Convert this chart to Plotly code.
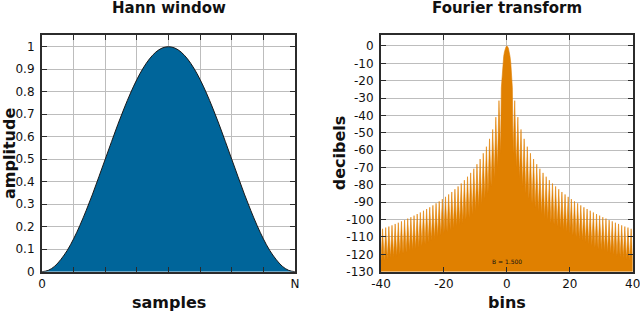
import plotly.graph_objects as go

# ---------------- data ----------------
# Hann window, samples 0..N (N = 40), amplitude
sample_idx = list(range(41))
hann_amp = [0.000, 0.006, 0.024, 0.055, 0.095, 0.146, 0.206, 0.273, 0.345, 0.422,
            0.500, 0.578, 0.655, 0.727, 0.794, 0.854, 0.905, 0.946, 0.976, 0.994,
            1.000,
            0.994, 0.976, 0.946, 0.905, 0.854, 0.794, 0.727, 0.655, 0.578, 0.500,
            0.422, 0.345, 0.273, 0.206, 0.146, 0.095, 0.055, 0.024, 0.006, 0.000]

# Fourier transform (dB), positive-frequency half; spectrum is symmetric
main_lobe_bins = [0.0, 0.25, 0.5, 0.75, 1.0, 1.25, 1.5, 1.75]
main_lobe_db = [0.0, -0.4, -1.4, -3.3, -6.0, -9.9, -15.4, -24.1]

null_bins = [2, 3, 4, 5, 6, 7, 8, 9, 10, 11, 12, 13, 14, 15, 16, 17, 18, 19, 20,
             21, 22, 23, 24, 25, 26, 27, 28, 29, 30, 31, 32, 33, 34, 35, 36, 37, 38, 39, 40]
null_db = [-62, -70, -76, -81, -85, -88, -91, -93, -95, -97, -99, -100, -102, -103, -104,
           -105, -106, -107, -108, -109, -110, -111, -112, -113, -114, -115, -116, -117,
           -117.5, -118, -119, -119.5, -120, -121, -121.5, -122, -123, -123.5, -124]

peak_bins = [2.5, 3.5, 4.5, 5.5, 6.5, 7.5, 8.5, 9.5, 10.5, 11.5, 12.5, 13.5, 14.5, 15.5,
             16.5, 17.5, 18.5, 19.5, 20.5, 21.5, 22.5, 23.5, 24.5, 25.5, 26.5, 27.5, 28.5,
             29.5, 30.5, 31.5, 32.5, 33.5, 34.5, 35.5, 36.5, 37.5, 38.5, 39.5]
peak_db = [-31.5, -41.0, -48.1, -53.5, -58.0, -61.8, -65.1, -68.1, -70.7, -73.1, -75.3,
           -77.3, -79.2, -80.9, -82.5, -84.1, -85.5, -86.9, -88.2, -89.5, -90.6, -91.8,
           -92.9, -93.9, -94.9, -95.9, -96.8, -97.7, -98.6, -99.4, -100.3, -101.0, -101.8,
           -102.5, -103.3, -104.0, -104.6, -105.3]

db_ticks = [0, -10, -20, -30, -40, -50, -60, -70, -80, -90, -100, -110, -120, -130]
db_labels = ["0", "-10", "-20", "-30", "-40", "-50", "-60", "-70", "-80", "-90",
             "-100", "-110", "-120", "-130"]
amp_ticks = [0, 0.1, 0.2, 0.3, 0.4, 0.5, 0.6, 0.7, 0.8, 0.9, 1]
bin_ticks = [-40, -20, 0, 20, 40]
bin_labels = ["-40", "-20", "0", "20", "40"]

# ---------------- build spectrum polyline ----------------
half_x = list(main_lobe_bins)
half_y = list(main_lobe_db)
for i in range(len(null_bins)):
    half_x.append(null_bins[i]); half_y.append(null_db[i])
    if i < len(peak_bins):
        half_x.append(peak_bins[i]); half_y.append(peak_db[i])

spec_x = [-v for v in half_x[::-1]] + half_x[1:]
spec_y = half_y[::-1] + half_y[1:]
floor = db_ticks[-1]
poly_x = [spec_x[0]] + spec_x + [spec_x[-1]]
poly_y = [floor] + spec_y + [floor]

BLUE = "#00659a"
ORANGE = "#e08000"
GRID = "#bdbdbd"
FRAME = "#2b2b2b"
FONT = "DejaVu Sans"

fig = go.Figure()
fig.add_trace(go.Scatter(x=sample_idx, y=hann_amp, mode="lines", fill="tozeroy",
                         fillcolor=BLUE, line=dict(color="#1a1a1a", width=1, shape="spline"),
                         xaxis="x", yaxis="y", hoverinfo="skip"))
fig.add_trace(go.Scatter(x=poly_x, y=poly_y, mode="lines", fill="toself",
                         fillcolor=ORANGE, line=dict(color=ORANGE, width=0.6),
                         xaxis="x2", yaxis="y2", hoverinfo="skip"))

ax_common = dict(showline=True, linecolor=FRAME, linewidth=2, mirror="ticks",
                 ticks="inside", ticklen=5, tickcolor=FRAME, tickwidth=1,
                 showgrid=True, gridcolor=GRID, gridwidth=1, zeroline=False,
                 automargin=False, ticklabeloverflow="allow",
                 tickfont=dict(family=FONT, size=12, color="#111"))

fig.update_layout(
    template="none",
    width=640, height=311, margin=dict(l=0, r=0, t=0, b=0, autoexpand=False),
    paper_bgcolor="white", plot_bgcolor="white", showlegend=False,
    xaxis=dict(domain=[0.0656, 0.4609], range=[0, 40],
               tickvals=[0, 5, 10, 15, 20, 25, 30, 35, 40],
               ticktext=["0", "", "", "", "", "", "", "", "N"], **ax_common),
    yaxis=dict(domain=[0.1264, 0.8875], range=[0, 1.052], tickvals=amp_ticks,
               ticktext=[str(v) for v in amp_ticks], anchor="x",
               ticklabelstandoff=3, **ax_common),
    xaxis2=dict(domain=[0.5953, 0.9886], range=[-40, 40], tickvals=bin_ticks,
                ticktext=bin_labels, anchor="y2", **ax_common),
    yaxis2=dict(domain=[0.1264, 0.8875], range=[-130, 6.3], tickvals=db_ticks,
                ticktext=db_labels, anchor="x2", ticklabelstandoff=3, **ax_common),
)

title_font = dict(family=FONT, size=15, color="#111")
label_font = dict(family=FONT, size=16, color="#111")
ann = [
    dict(text="<b>Hann window</b>", x=0.2633, y=1 - 8 / 311, font=title_font),
    dict(text="<b>Fourier transform</b>", x=0.792, y=1 - 8 / 311, font=title_font),
    dict(text="<b>samples</b>", x=0.2633, y=1 - 302 / 311, font=label_font),
    dict(text="<b>bins</b>", x=0.792, y=1 - 302 / 311, font=label_font),
    dict(text="<b>amplitude</b>", x=10 / 640, y=0.505, textangle=-90, font=label_font),
    dict(text="<b>decibels</b>", x=339 / 640, y=0.507, textangle=-90, font=label_font),
]
for a in ann:
    fig.add_annotation(xref="paper", yref="paper", showarrow=False,
                       xanchor="center", yanchor="middle", **a)
fig.add_annotation(xref="x2", yref="y2", x=0, y=-124, text="B = 1.500", showarrow=False,
                   font=dict(family=FONT, size=6, color="#111"))

fig.write_html("out.html", config={"displayModeBar": False},
               post_script="document.body.style.margin='0';document.body.style.overflow='hidden';")
